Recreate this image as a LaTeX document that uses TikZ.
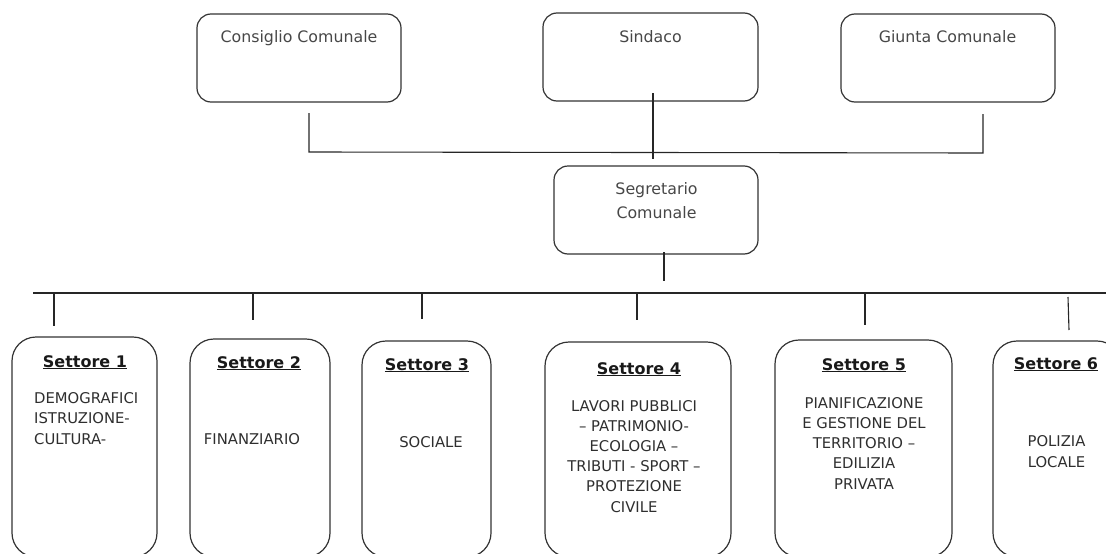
\documentclass[tikz,border=0pt]{standalone}
\usepackage{fontspec}
\setmainfont{DejaVu Sans}
\begin{document}
\begin{tikzpicture}[x=1pt,y=-1pt,
	topbox/.style={draw=black!80,line width=1.2pt,rounded corners=14pt,inner sep=0pt},
	setbox/.style={draw=black!80,line width=1.2pt,rounded corners=24pt,inner sep=0pt},
	toptext/.style={anchor=base,inner sep=0pt,text=black!72,align=center,font=\fontsize{15.8}{24}\selectfont},
	settitle/.style={anchor=base,inner sep=0pt,text=black!90,font=\fontsize{16}{18}\selectfont\bfseries},
	settext/.style={anchor=base,inner sep=0pt,text=black!82,align=center,font=\fontsize{14.8}{20.2}\selectfont},
	conn/.style={draw=black!85,line width=1.1pt}]
	\useasboundingbox (0,0) rectangle (1106,554);
	\clip (0,0) rectangle (1106,554);
	%VERTICE
	\node[topbox,minimum width=204pt,minimum height=88pt] (cons) at (299,58) {};
	\node[topbox,minimum width=215pt,minimum height=88pt] (sind) at (650.5,57) {};
	\node[topbox,minimum width=214pt,minimum height=88pt] (giun) at (948,58) {};
	\node[toptext] (consT) at (299,42) {Consiglio Comunale};
	\node[toptext] (sindT) at (650.5,42) {Sindaco};
	\node[toptext] (giunT) at (947.5,42) {Giunta Comunale};
	%SEGRETARIO
	\node[topbox,minimum width=204pt,minimum height=88pt] (segr) at (656,210) {};
	\node[toptext] (segrT) at (656.5,218) {Segretario\\Comunale};
	%linee vertice
	\coordinate (consA) at (309,113);
	\coordinate (consB) at (309,152);
	\coordinate (giunA) at (983,114);
	\coordinate (giunB) at (983,153);
	\coordinate (sindA) at (653,93);
	\coordinate (sindB) at (653,159);
	\draw[conn] (consA) -- (consB) -- (giunB) -- (giunA);
	\draw[conn] (sindA) -- (sindB);
	%SETTORI
	\node[setbox,minimum width=145pt,minimum height=220pt] (set1) at (84.5,447) {};
	\node[setbox,minimum width=140pt,minimum height=218pt] (set2) at (260,448) {};
	\node[setbox,minimum width=129pt,minimum height=216pt] (set3) at (426.5,449) {};
	\node[setbox,minimum width=186pt,minimum height=215pt] (set4) at (638,449.5) {};
	\node[setbox,minimum width=177pt,minimum height=217pt] (set5) at (863.5,448.5) {};
	\node[setbox,minimum width=128pt,minimum height=216pt] (set6) at (1057,449) {};
	\node[settitle] (set1T) at (85,367) {\underline{Settore 1}};
	\node[settitle] (set2T) at (259,368) {\underline{Settore 2}};
	\node[settitle] (set3T) at (427,370) {\underline{Settore 3}};
	\node[settitle] (set4T) at (639,374) {\underline{Settore 4}};
	\node[settitle] (set5T) at (864,370) {\underline{Settore 5}};
	\node[settitle] (set6T) at (1056,369) {\underline{Settore 6}};
	\node[settext,anchor=base west,align=left] (set1B) at (34,444) {DEMOGRAFICI\\ISTRUZIONE-\\CULTURA-};
	\node[settext] (set2B) at (252,444) {FINANZIARIO};
	\node[settext] (set3B) at (431,447) {SOCIALE};
	\node[settext] (set4B) at (634,512) {LAVORI PUBBLICI\\– PATRIMONIO-\\ECOLOGIA –\\TRIBUTI - SPORT –\\PROTEZIONE\\CIVILE};
	\node[settext] (set5B) at (864,489) {PIANIFICAZIONE\\E GESTIONE DEL\\TERRITORIO –\\EDILIZIA\\PRIVATA};
	\node[settext] (set6B) at (1056.5,467) {POLIZIA\\LOCALE};
	%linee settori
	\coordinate (segrA) at (664,252);
	\coordinate (segrB) at (664,281);
	\coordinate (busL) at (33,293);
	\coordinate (busR) at (1110,293);
	\draw[conn] (segrA) -- (segrB);
	\draw[conn] (busL) -- (busR);
	\coordinate (d1) at (54,293);   \coordinate (e1) at (54,326);
	\coordinate (d2) at (253,293);  \coordinate (e2) at (253,320);
	\coordinate (d3) at (422,293);  \coordinate (e3) at (422,319);
	\coordinate (d4) at (637,293);  \coordinate (e4) at (637,320);
	\coordinate (d5) at (865,293);  \coordinate (e5) at (865,325);
	\coordinate (d6) at (1068,297); \coordinate (e6) at (1069,330);
	\draw[conn] (d1) -- (e1);
	\draw[conn] (d2) -- (e2);
	\draw[conn] (d3) -- (e3);
	\draw[conn] (d4) -- (e4);
	\draw[conn] (d5) -- (e5);
	\draw[conn] (d6) -- (e6);
\end{tikzpicture}
\end{document}
